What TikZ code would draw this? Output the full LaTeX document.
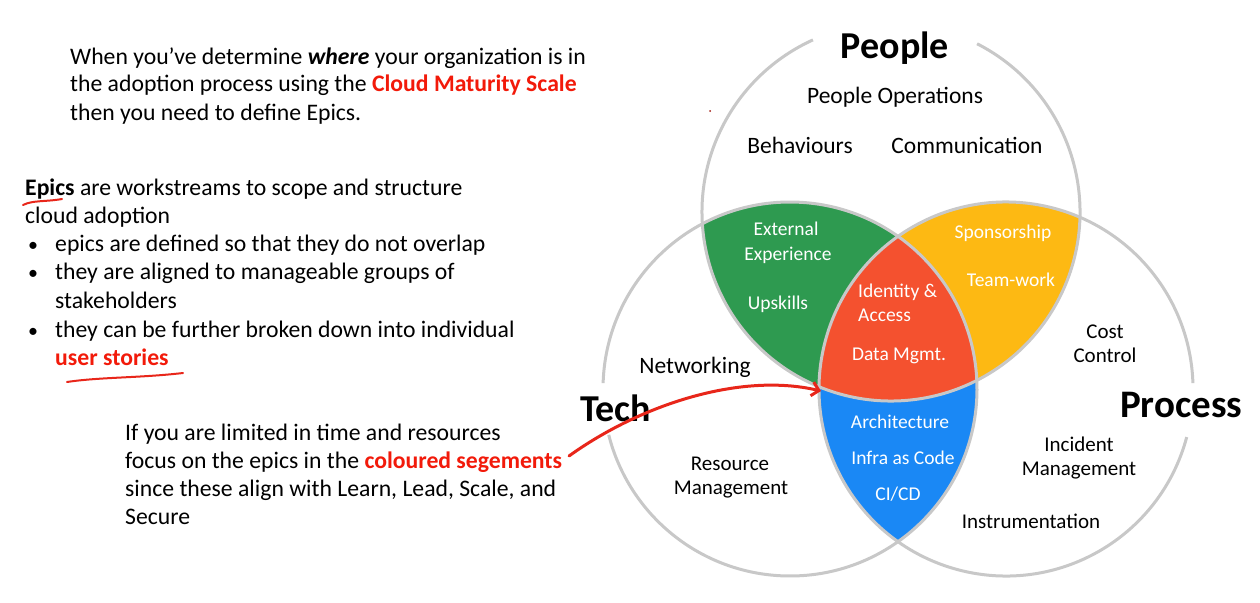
\documentclass[tikz,border=0pt]{standalone}
\usepackage{fontspec}
\setmainfont{Carlito}
\usetikzlibrary{arrows.meta}
\definecolor{ringgray}{HTML}{C8C8C8}
\definecolor{vgreen}{HTML}{2E9A50}
\definecolor{vyellow}{HTML}{FDB913}
\definecolor{vred}{HTML}{F4512F}
\definecolor{vblue}{HTML}{1A88F5}
\definecolor{hired}{HTML}{F21A0A}
\definecolor{inkred}{HTML}{E8261A}
\begin{document}
\begin{tikzpicture}[x=1pt,y=-1pt,
  body/.style={anchor=base west, inner sep=0pt, font=\fontsize{23.7}{28}\selectfont},
  lbl/.style={anchor=base, inner sep=0pt, font=\fontsize{21}{25}\selectfont},
  toplbl/.style={anchor=base, inner sep=0pt, font=\fontsize{23.5}{27}\selectfont},
  wlbl/.style={anchor=base, inner sep=0pt, text=white, font=\fontsize{19.5}{24}\selectfont},
  setname/.style={inner sep=0pt, font=\fontsize{38}{44}\selectfont\bfseries},
  ring/.style={draw=ringgray, line width=3pt},
  ink/.style={draw=inkred, line width=2pt, line cap=round, line join=round},
]
\useasboundingbox (0,0) rectangle (1260,602);
\fill[white] (0,0) rectangle (1260,602);

% ---- coloured overlaps ----
\begin{scope}
  \clip (790,389) circle[radius=187];
  \fill[vblue] (1006,389) circle[radius=187];
\end{scope}
\begin{scope}
  \clip (891,212) circle[radius=189];
  \fill[vgreen] (790,389) circle[radius=187];
  \fill[vyellow] (1006,389) circle[radius=187];
  \clip (790,389) circle[radius=187];
  \fill[vred] (1006,389) circle[radius=187];
\end{scope}

% ---- circle outlines, opened where the set names sit ----
\draw[ring] (891,212) ++(297.1:189) arc[start angle=297.1, end angle=605.6, radius=189];
\draw[ring] (790,389) ++(181.8:187) arc[start angle=181.8, end angle=525.8, radius=187];
\draw[ring] (1006,389) ++(14.9:187) arc[start angle=14.9, end angle=358.2, radius=187];

% ---- set names ----
\node[setname, anchor=base] (people) at (895,59) {People};
\node[setname, anchor=base west] (tech) at (580,421) {Tech};
\node[setname, anchor=base west, font=\fontsize{39}{45}\selectfont\bfseries] (process) at (1120,417) {Process};

% ---- People only ----
\node[toplbl] (peopleops) at (895,103) {People Operations};
\node[toplbl] (behav) at (800,153) {Behaviours};
\node[toplbl] (comm) at (967,153) {Communication};

% ---- People and Tech ----
\node[wlbl] (ext1) at (786,235) {External};
\node[wlbl] (ext2) at (788,260) {Experience};
\node[wlbl] (upsk) at (778,309) {Upskills};

% ---- People and Process ----
\node[wlbl] (spons) at (1003,238) {Sponsorship};
\node[wlbl] (team) at (1011,286) {Team-work};

% ---- all three ----
\node[wlbl, anchor=base west] (ident1) at (858,297) {Identity \&};
\node[wlbl, anchor=base west] (ident2) at (858,321) {Access};
\node[wlbl] (datam) at (899,360) {Data Mgmt.};

% ---- Tech and Process ----
\node[wlbl] (arch) at (900,428) {Architecture};
\node[wlbl] (iac) at (903,464) {Infra as Code};
\node[wlbl] (cicd) at (898,500) {CI/CD};

% ---- Tech only ----
\node[toplbl] (netw) at (695,373) {Networking};
\node[lbl] (res1) at (730,470) {Resource};
\node[lbl] (res2) at (731,494) {Management};

% ---- Process only ----
\node[lbl] (cost1) at (1105,338) {Cost};
\node[lbl] (cost2) at (1105,362) {Control};
\node[lbl] (inc1) at (1079,451) {Incident};
\node[lbl] (inc2) at (1079,475) {Management};
\node[lbl] (instr) at (1031,528) {Instrumentation};

% ---- text on the left ----
\node[body] (p1a) at (70,64) {When you’ve determine \textbf{\itshape where} your organization is in};
\node[body] (p1b) at (70,92) {the adoption process using the \textcolor{hired}{\textbf{Cloud Maturity Scale}}};
\node[body] (p1c) at (70,120) {then you need to define Epics.};

\node[body] (p2a) at (25,195) {\textbf{Epics} are workstreams to scope and structure};
\node[body] (p2b) at (25,223) {cloud adoption};
\node[body, font=\fontsize{20}{24}\selectfont] (b1) at (28,251) {•};
\node[body] (p2c) at (55,251) {epics are defined so that they do not overlap};
\node[body, font=\fontsize{20}{24}\selectfont] (b2) at (28,279) {•};
\node[body] (p2d) at (55,279) {they are aligned to manageable groups of};
\node[body] (p2e) at (55,308) {stakeholders};
\node[body, font=\fontsize{20}{24}\selectfont] (b3) at (28,337) {•};
\node[body] (p2f) at (55,337) {they can be further broken down into individual};
\node[body] (p2g) at (55,365) {\textcolor{hired}{\textbf{user stories}}};

\node[body] (p3a) at (125,440) {If you are limited in time and resources};
\node[body] (p3b) at (125,468) {focus on the epics in the \textcolor{hired}{\textbf{coloured segements}}};
\node[body] (p3c) at (125,496) {since these align with Learn, Lead, Scale, and};
\node[body] (p3d) at (125,524) {Secure};

% ---- hand-drawn marks ----
\draw[ink] (23,205) .. controls (33,200) and (45,202) .. (62,199);
\draw[ink] (67,382) .. controls (100,377) and (140,378) .. (183,373);
\coordinate (arrowstart) at (569,456);
\coordinate (arrowtip) at (821,391);
\draw[ink, line width=3pt, -{Straight Barb[length=7pt,width=14pt]}]
  (arrowstart) .. controls (640,405) and (740,372) .. (arrowtip);
\fill[inkred!70!black] (710,111) circle[radius=1];
\end{tikzpicture}
\end{document}
